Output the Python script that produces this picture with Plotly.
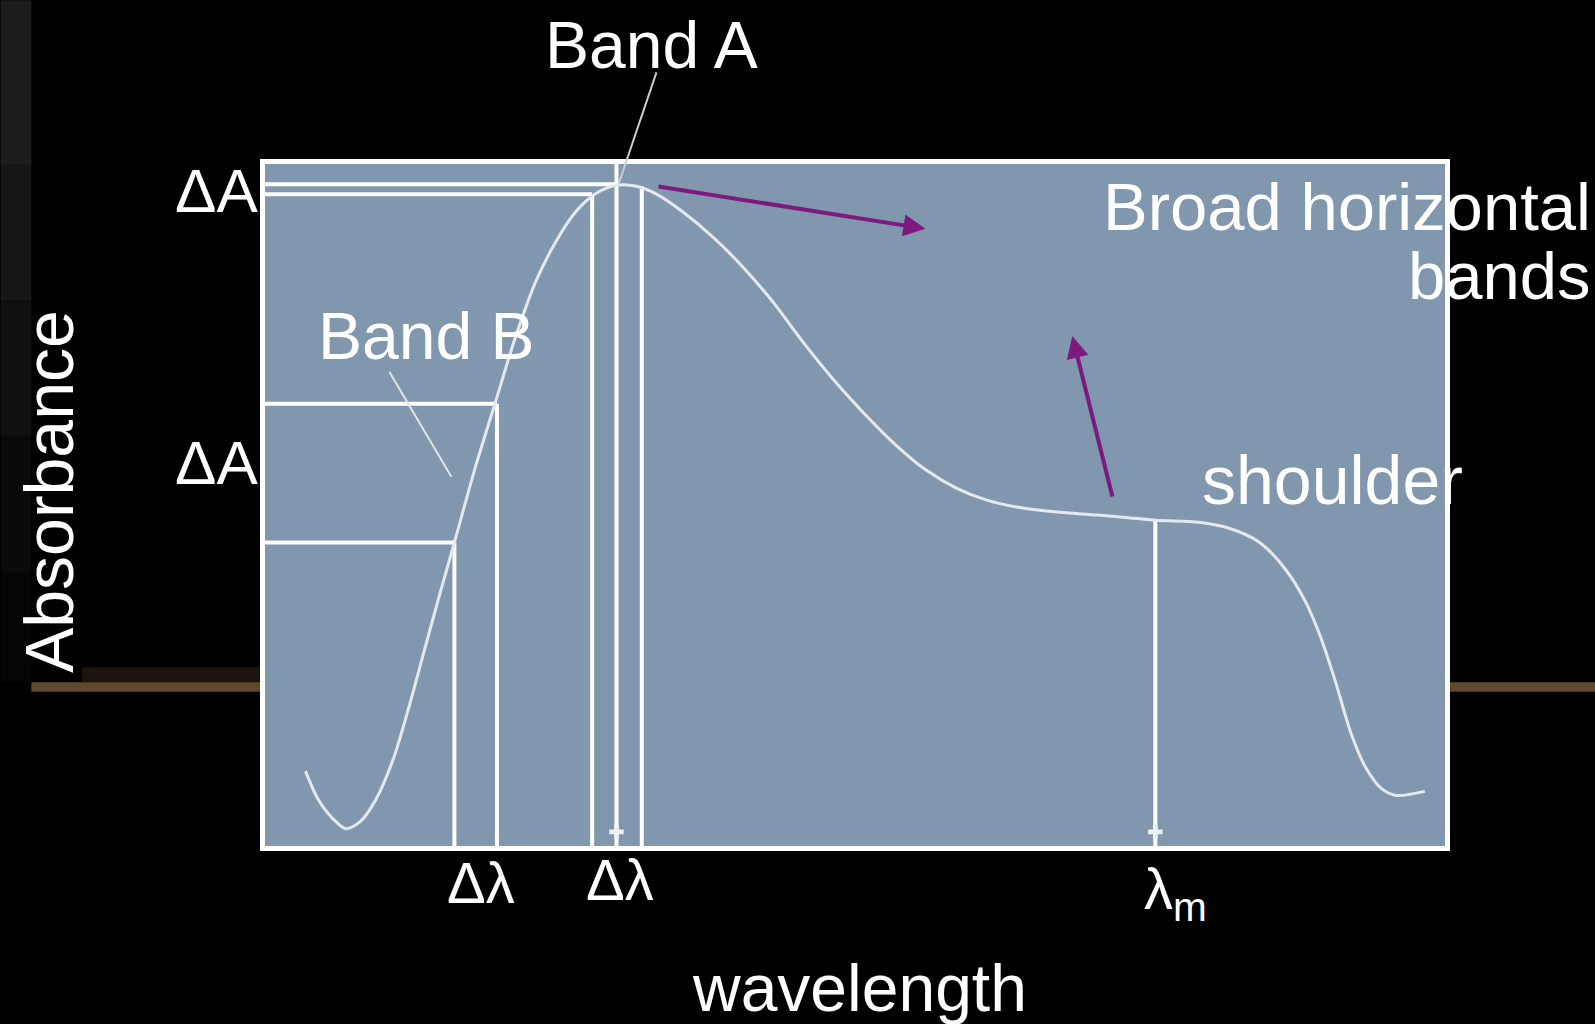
import plotly.graph_objects as go

# Absorption spectrum sketch, units are arbitrary (wavelength index / absorbance index)
wavelength = [40, 52, 67, 80, 94, 110, 127, 142, 157, 172, 187, 207, 227, 247, 267, 287,
              307, 327, 347, 367, 387, 412, 442, 472, 502, 532, 562, 592, 622, 652, 682,
              712, 742, 782, 822, 879, 922, 952, 982, 1007, 1027, 1042, 1057, 1072, 1087,
              1102, 1117, 1145]
absorbance = [74, 47, 27, 17, 24, 47, 87, 137, 192, 247, 300, 372, 437, 502, 557, 597,
              627, 645, 653, 652, 644, 627, 602, 572, 537, 497, 460, 427, 397, 372, 354,
              342, 335, 330, 327, 322, 320, 314, 300, 274, 242, 207, 162, 112, 77,
              57, 50, 54]

# vertical drop lines (wavelength, absorbance where they start)
drop_x = [187, 229, 323, 347, 372, 879]
drop_top = [300, 437, 644, 674, 652, 322]

# horizontal guide lines (absorbance level, wavelength where they end)
guide_y = [300, 437, 644, 654]
guide_end = [187, 229, 323, 347]

# little marks on the baseline
mark_x = [347, 879]

X_MAX, Y_MAX = 1165, 674
FONT = "Liberation Sans, Arial, sans-serif"
BOX = "#8097ad"

fig = go.Figure()

vx, vy = [], []
for x, top in zip(drop_x, drop_top):
    vx += [x, x, None]
    vy += [0, top, None]
for y, end in zip(guide_y, guide_end):
    vx += [0, end, None]
    vy += [y, y, None]

fig.add_trace(go.Scatter(x=vx, y=vy, mode="lines",
                         line=dict(color="white", width=4), hoverinfo="skip"))

fig.add_trace(go.Scatter(x=wavelength, y=absorbance, mode="lines",
                         line=dict(color="#e4e9ef", width=3, shape="spline", smoothing=0.8),
                         hoverinfo="skip"))

fig.add_trace(go.Scatter(x=mark_x, y=[14] * len(mark_x), mode="markers",
                         marker=dict(symbol="cross", size=12, color="#eef2f6"),
                         hoverinfo="skip"))

annotations = []


def label(text, x, y, xanchor="center", size=66, angle=0):
    # positions given in the same units as the axes, placed on paper so labels
    # outside the frame are still shown
    annotations.append(dict(text=text, x=x / X_MAX, y=y / Y_MAX, xref="paper", yref="paper",
                            showarrow=False, xanchor=xanchor, yanchor="middle",
                            textangle=angle,
                            font=dict(family=FONT, size=size, color="white")))


label("Band A", 382, 792)
label("Band B", 159, 504)
label("Broad horizontal", 1311, 632, xanchor="right", size=67)
label("bands", 1311, 564, xanchor="right", size=67)
label("shoulder", 1054, 362, size=68)
label("ΔA", -48, 648, size=62)
label("ΔA", -48, 379, size=62)
label("Δλ", 213, -36, size=58)
label("Δλ", 350, -33, size=58)
label("λ<sub>m</sub>", 866, -46, xanchor="left", size=58)
label("Absorbance", -213, 350, angle=-90, size=68)
label("wavelength", 587, -140, size=66)


def pointer(x0, y0, x1, y1, color, width, head):
    annotations.append(dict(x=x1, y=y1, ax=x0, ay=y0, xref="x", yref="y",
                            axref="x", ayref="y", text="", showarrow=True,
                            arrowhead=head, arrowsize=1.1, arrowwidth=width,
                            arrowcolor=color))


# leader lines to the band names
pointer(387, 766, 349, 654, "#c9ced4", 2, 0)
pointer(122, 470, 184, 365, "#dfe5ea", 2, 0)
# purple arrows
pointer(387, 652, 652, 610, "#7d1a80", 4, 2)
pointer(837, 344, 797, 504, "#7d1a80", 4, 2)

# dark backdrop decoration (left strip fading to black, golden horizon line)
strip = [(1.00, 1.24, "#1c1c1c"), (0.80, 1.00, "#161616"), (0.60, 0.80, "#101010"),
         (0.40, 0.60, "#0a0a0a"), (0.24, 0.40, "#050505")]
shapes = [dict(type="rect", xref="paper", yref="paper", x0=-0.224, x1=-0.198, y0=a, y1=b,
               fillcolor=c, line_width=0, layer="below") for a, b, c in strip]
shapes += [
    dict(type="rect", xref="paper", yref="paper", x0=-0.155, x1=0, y0=0.240, y1=0.262,
         fillcolor="#1a140c", line_width=0, layer="below"),
    dict(type="rect", xref="paper", yref="paper", x0=-0.198, x1=0, y0=0.226, y1=0.240,
         fillcolor="#5e4a2a", line_width=0, layer="below"),
    dict(type="rect", xref="paper", yref="paper", x0=1.0, x1=1.13, y0=0.226, y1=0.240,
         fillcolor="#5e4a2a", line_width=0, layer="below"),
]

fig.update_layout(
    width=1595, height=1024,
    margin=dict(l=265, r=150, t=164, b=178),
    paper_bgcolor="black", plot_bgcolor=BOX,
    showlegend=False,
    xaxis=dict(range=[0, X_MAX], showgrid=False, zeroline=False, showticklabels=False,
               ticks="", showline=True, mirror=True, linecolor="white", linewidth=5),
    yaxis=dict(range=[0, Y_MAX], showgrid=False, zeroline=False, showticklabels=False,
               ticks="", showline=True, mirror=True, linecolor="white", linewidth=5),
    annotations=annotations,
    shapes=shapes,
)

fig.write_html("out.html", config={"displayModeBar": False},
               post_script="document.body.style.margin='0';"
               "document.body.style.background='black';")
